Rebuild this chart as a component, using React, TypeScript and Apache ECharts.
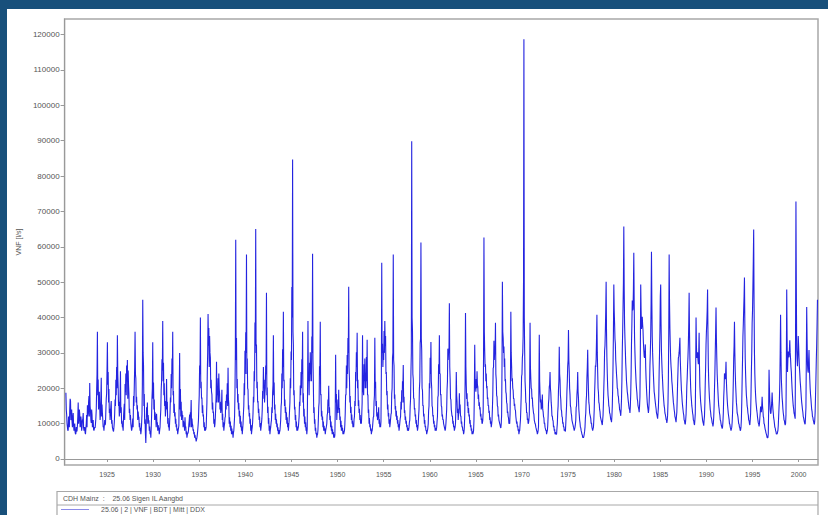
import React, { useEffect, useRef } from "react";
import * as echarts from "echarts";

// Monthly discharge values in thousands, starting July 1920
const START_YEAR = 1920;
const START_MONTH = 6; // 0-based: July

const flow1920s = [
  18.7, 12.5, 9.0, 8.2, 10.5, 14.0,
  16.5, 12.0, 10.5, 11.8, 9.6, 8.4, 7.6, 7.2, 7.8, 9.5, 16.0, 11.5,
  12.8, 9.4, 10.6, 8.9, 11.2, 9.0, 8.1, 7.4, 8.6, 12.4, 15.2, 13.0,
  17.8, 21.5, 13.6, 10.2, 12.5, 9.8, 8.4, 7.9, 8.8, 11.6, 19.4, 36.0,
  22.5, 17.2, 14.8, 12.6, 23.0, 15.4, 11.2, 9.3, 8.1, 9.6, 13.8, 18.5,
  33.0, 24.6, 19.8, 14.2, 12.8, 16.4, 11.0, 8.9, 7.8, 10.4, 16.8, 22.4,
  26.0, 35.0, 20.4, 16.2, 13.5, 24.8, 14.6, 10.8, 9.2, 12.0, 15.6, 21.2,
  24.2, 26.4, 28.0, 25.0, 18.6, 14.2, 12.4, 10.1, 8.6, 11.4, 17.8, 20.6,
  36.0, 22.8, 17.6, 15.2, 13.4, 11.8, 10.2, 8.8, 8.0, 12.6, 45.0, 26.4,
  18.4, 11.2, 4.5, 14.6, 16.0, 12.4, 10.8, 9.2, 7.9, 8.6, 17.2, 33.0,
];
const flow1930s = [
  21.6, 16.8, 13.2, 11.4, 12.8, 10.4, 9.6, 8.5, 8.1, 11.8, 19.6, 28.2,
  39.0, 27.2, 21.4, 16.4, 14.0, 22.6, 16.2, 11.6, 9.4, 10.6, 17.4, 24.0,
  28.4, 36.0, 19.2, 15.6, 13.2, 11.4, 9.8, 8.6, 7.9, 9.4, 30.0, 19.8,
  16.2, 13.6, 12.4, 10.8, 9.6, 11.8, 9.2, 7.8, 6.9, 7.4, 9.8, 12.6,
  13.2, 16.7, 11.4, 9.6, 8.4, 7.6, 6.8, 5.8, 5.5, 6.9, 9.4, 14.8,
  26.4, 40.0, 21.8, 17.4, 15.2, 12.6, 10.4, 9.0, 8.4, 12.2, 24.6, 41.0,
  37.0, 34.8, 28.6, 22.4, 18.2, 16.0, 13.4, 11.2, 10.0, 14.8, 27.5, 20.6,
  22.8, 24.2, 18.4, 16.2, 14.0, 19.6, 12.8, 10.4, 9.2, 11.6, 16.4, 18.2,
  21.4, 25.8, 15.6, 11.8, 10.6, 9.4, 8.6, 7.8, 7.4, 9.8, 18.6, 62.0,
  34.2, 22.6, 18.4, 15.8, 13.6, 12.2, 10.6, 9.2, 8.4, 12.8, 21.4, 30.6,
];
const flow1940s = [
  35.8, 57.8, 28.4, 19.6, 15.2, 13.0, 11.4, 9.6, 8.2, 10.4, 17.6, 24.8,
  38.6, 65.0, 32.4, 21.8, 16.4, 14.2, 12.0, 10.2, 9.0, 11.4, 19.2, 26.0,
  22.4, 18.6, 26.4, 47.0, 20.2, 14.8, 11.6, 9.4, 8.2, 10.2, 14.6, 18.8,
  35.0, 21.6, 15.4, 12.8, 11.2, 10.0, 9.0, 8.2, 7.6, 9.4, 14.8, 24.2,
  31.0, 41.6, 22.4, 16.8, 14.6, 13.2, 11.8, 10.2, 9.4, 13.6, 22.8, 30.4,
  48.6, 84.7, 32.2, 19.4, 14.8, 12.4, 10.6, 9.2, 8.6, 10.4, 16.2, 20.8,
  24.6, 28.2, 36.0, 18.6, 14.2, 12.0, 10.4, 9.0, 8.4, 39.0, 24.4, 27.2,
  30.2, 26.4, 34.6, 58.0, 21.4, 14.6, 11.2, 8.8, 7.4, 6.8, 8.2, 14.6,
  26.2, 38.8, 18.4, 13.6, 12.0, 10.6, 9.4, 8.6, 8.0, 9.2, 12.4, 16.8,
  20.7, 14.6, 12.2, 10.6, 9.4, 8.4, 7.6, 7.0, 6.8, 29.5, 18.4, 14.2,
];
const flow1950s = [
  16.8, 19.6, 14.4, 12.0, 10.8, 9.6, 8.8, 8.0, 7.6, 9.8, 18.2, 26.4,
  29.4, 34.2, 48.7, 22.6, 17.8, 14.8, 12.6, 10.8, 9.6, 11.2, 16.4, 24.6,
  30.2, 35.7, 22.4, 16.6, 14.2, 12.4, 11.0, 12.6, 35.0, 19.2, 26.8, 28.4,
  24.4, 28.8, 33.7, 18.2, 14.0, 11.6, 9.8, 8.6, 7.8, 9.0, 11.8, 16.2,
  34.3, 21.8, 16.4, 13.2, 11.8, 14.6, 11.2, 9.8, 10.6, 55.5, 32.6, 30.4,
  36.2, 39.0, 34.8, 24.6, 19.2, 15.4, 13.0, 11.2, 10.0, 12.6, 18.4, 28.6,
  57.8, 26.4, 18.2, 15.0, 13.6, 12.2, 11.0, 9.8, 9.0, 11.4, 16.2, 19.4,
  22.0, 26.6, 17.6, 13.8, 12.0, 10.8, 9.6, 8.8, 8.2, 10.4, 14.8, 24.6,
  89.8, 36.4, 22.6, 17.2, 14.4, 12.6, 11.0, 9.6, 8.8, 12.2, 19.8, 32.8,
  61.2, 30.8, 19.4, 15.2, 12.8, 11.0, 9.4, 8.2, 7.6, 8.8, 13.6, 21.4,
];
const flow1960s = [
  28.6, 33.1, 20.2, 14.6, 12.4, 10.8, 9.6, 8.8, 8.2, 10.6, 17.4, 26.8,
  35.0, 24.2, 18.4, 14.8, 12.6, 11.2, 10.0, 9.0, 8.6, 11.8, 19.6, 31.2,
  30.4, 44.0, 22.6, 16.8, 14.0, 12.2, 10.8, 9.4, 8.6, 10.2, 24.6, 16.4,
  14.2, 12.8, 18.6, 15.4, 12.2, 10.6, 9.2, 8.2, 7.6, 12.4, 41.3, 20.8,
  18.6, 16.2, 14.4, 12.6, 11.0, 9.6, 8.6, 7.8, 7.4, 10.8, 32.3, 20.2,
  22.6, 24.8, 20.4, 18.2, 16.0, 14.6, 12.8, 11.4, 10.2, 13.6, 62.6, 30.4,
  26.8, 24.2, 20.6, 17.4, 15.2, 13.6, 11.8, 10.6, 9.8, 14.2, 25.6, 33.4,
  30.6, 38.5, 22.4, 17.6, 14.8, 12.6, 11.0, 9.6, 8.8, 12.4, 50.1, 34.2,
  31.8, 28.4, 22.6, 18.4, 15.6, 13.4, 11.6, 10.2, 12.8, 41.6, 26.2, 22.8,
  19.4, 17.2, 15.6, 13.8, 12.0, 10.6, 9.4, 8.4, 7.8, 9.6, 14.2, 23.4,
];
const flow1970s = [
  28.6, 34.8, 118.7, 30.2, 19.6, 15.8, 13.2, 11.4, 10.2, 12.6, 38.5, 22.6,
  19.8, 17.4, 15.0, 12.6, 11.0, 9.8, 8.6, 7.8, 7.4, 9.2, 35.1, 18.4,
  16.8, 14.6, 18.2, 13.4, 11.6, 10.2, 9.0, 8.2, 7.6, 9.4, 15.8, 20.4,
  24.6, 18.8, 14.6, 12.2, 10.8, 9.4, 8.4, 7.6, 7.0, 8.6, 13.2, 19.6,
  31.7, 22.4, 16.8, 13.6, 11.8, 10.4, 9.2, 8.4, 7.8, 12.6, 19.2, 26.2,
  36.5, 24.8, 18.2, 14.6, 12.4, 11.0, 9.6, 8.6, 8.0, 9.8, 14.6, 18.2,
  24.6, 17.2, 12.6, 10.2, 8.8, 7.6, 6.8, 6.2, 6.4, 7.8, 11.6, 16.4,
  22.8, 30.9, 19.4, 15.2, 13.0, 11.4, 10.2, 9.0, 8.6, 11.2, 18.6, 26.4,
  28.2, 40.8, 24.6, 18.8, 15.6, 13.4, 12.0, 10.6, 9.6, 12.4, 20.2, 30.6,
  36.4, 50.1, 28.6, 20.4, 16.8, 14.6, 12.8, 11.2, 10.4, 14.8, 26.8, 49.3,
];
const flow1980s = [
  38.4, 32.6, 26.2, 22.4, 19.8, 17.6, 15.4, 13.6, 12.2, 16.8, 30.4, 42.6,
  65.7, 38.2, 30.6, 24.8, 20.6, 18.2, 16.0, 14.2, 13.0, 18.4, 32.6, 44.8,
  42.4, 58.3, 34.2, 26.4, 21.6, 18.8, 16.4, 14.6, 13.2, 17.6, 49.3, 36.8,
  40.2, 36.4, 30.8, 28.6, 32.4, 22.6, 17.8, 14.8, 13.0, 16.2, 26.4, 34.8,
  58.6, 34.6, 26.8, 21.4, 18.2, 16.0, 14.2, 12.6, 11.4, 14.6, 24.8, 36.2,
  49.3, 30.4, 24.2, 19.6, 16.4, 14.4, 12.6, 11.2, 10.2, 12.4, 22.6, 57.8,
  36.8, 28.2, 24.6, 20.8, 17.6, 15.2, 13.2, 11.6, 10.4, 13.2, 21.4, 28.6,
  30.2, 34.3, 24.8, 19.4, 16.2, 14.0, 12.4, 10.8, 9.8, 12.6, 20.6, 26.4,
  32.6, 47.0, 28.4, 20.2, 16.6, 14.2, 12.4, 10.8, 9.6, 12.8, 40.0, 28.6,
  30.2, 26.8, 35.7, 20.4, 16.2, 13.8, 12.0, 10.4, 9.4, 12.2, 21.6, 32.4,
];
const flow1990s = [
  38.6, 47.9, 26.4, 19.2, 15.6, 13.2, 11.6, 10.2, 9.2, 11.8, 19.8, 30.2,
  42.8, 28.6, 21.4, 16.8, 14.2, 12.4, 10.8, 9.4, 8.6, 10.6, 17.4, 24.2,
  22.6, 27.5, 19.2, 15.2, 12.8, 11.2, 9.8, 8.6, 8.0, 10.4, 16.8, 28.4,
  38.8, 24.6, 18.6, 14.8, 12.6, 11.0, 9.8, 8.8, 8.2, 11.2, 22.4, 34.6,
  42.2, 51.3, 28.4, 20.6, 16.8, 14.4, 12.4, 10.8, 9.6, 12.8, 24.6, 38.4,
  48.6, 64.9, 30.2, 20.4, 16.2, 13.8, 11.8, 10.2, 9.2, 11.6, 14.8, 13.2,
  17.6, 13.8, 11.6, 9.8, 8.4, 7.4, 6.6, 6.0, 7.2, 25.2, 16.4, 12.8,
  14.6, 18.8, 14.2, 11.6, 10.0, 8.8, 7.8, 7.2, 7.0, 9.4, 14.6, 21.8,
  40.8, 22.6, 17.4, 14.2, 12.2, 10.8, 9.6, 12.4, 47.9, 24.6, 30.4, 28.8,
  33.6, 28.4, 24.6, 19.8, 16.4, 14.2, 12.6, 11.4, 72.8, 30.6, 26.2, 34.8,
];
const flow2000s = [
  28.6, 24.2, 20.6, 17.4, 15.0, 13.2, 11.6, 10.4, 9.8, 14.6, 43.0, 26.8,
  24.4, 30.8, 22.6, 18.2, 15.4, 13.4, 11.8, 10.6, 9.8, 13.2, 22.6, 32.4,
  45.0,
];

// Mid-month readings (between consecutive monthly values), thousands
const mid1920s = [
  14, 10, 8, 12, 9, 17,
  11, 14, 9, 13, 8, 10, 7, 9, 8, 12, 10, 14,
  9, 12, 8, 11, 13, 8, 9, 7, 10, 9, 12, 16,
  12, 15, 11, 14, 9, 11, 8, 9, 10, 14, 24, 18,
  14, 19, 11, 17, 12, 13, 9, 8, 11, 10, 17, 25,
  21, 16, 13, 11, 15, 10, 9, 8, 9, 13, 15, 18,
  20, 24, 15, 12, 18, 13, 10, 9, 8, 14, 11, 19,
  18, 22, 17, 21, 13, 11, 10, 8, 10, 9, 15, 26,
  24, 16, 14, 11, 12, 9, 8, 7, 10, 21, 30, 15,
  10, 7, 9, 12, 10, 11, 8, 7, 6, 12, 20, 17,
];
const mid1930s = [
  14, 11, 12, 9, 10, 8, 9, 7, 9, 14, 22, 25,
  22, 18, 15, 12, 16, 14, 10, 9, 8, 13, 16, 20,
  24, 18, 13, 12, 10, 9, 8, 7, 8, 19, 14, 12,
  11, 12, 9, 10, 8, 9, 7, 6, 7, 8, 11, 9,
  12, 9, 10, 8, 7, 6, 6, 5, 6, 8, 11, 18,
  24, 20, 17, 13, 12, 9, 8, 8, 9, 16, 30, 32,
  26, 30, 20, 19, 14, 13, 10, 9, 12, 18, 16, 18,
  16, 20, 14, 13, 15, 11, 9, 8, 10, 12, 14, 16,
  15, 17, 10, 9, 8, 7, 7, 6, 8, 12, 30, 28,
  20, 16, 14, 12, 10, 9, 8, 7, 10, 15, 18, 24,
];
const mid1940s = [
  30, 24, 20, 14, 12, 10, 8, 7, 9, 13, 16, 22,
  32, 30, 20, 16, 13, 11, 9, 8, 10, 14, 17, 20,
  16, 20, 24, 18, 13, 10, 8, 7, 9, 11, 13, 21,
  18, 14, 11, 10, 9, 8, 7, 7, 8, 11, 16, 20,
  26, 22, 15, 13, 11, 10, 9, 8, 11, 16, 20, 28,
  40, 36, 18, 14, 11, 9, 8, 8, 9, 12, 15, 18,
  20, 24, 16, 12, 10, 9, 8, 7, 20, 22, 18, 22,
  24, 22, 30, 28, 13, 10, 8, 7, 6, 7, 11, 16,
  24, 18, 12, 11, 9, 8, 8, 7, 8, 10, 13, 15,
  13, 11, 9, 8, 7, 7, 6, 6, 14, 16, 11, 13,
];
const mid1950s = [
  14, 13, 11, 9, 8, 8, 7, 7, 8, 13, 18, 20,
  24, 30, 26, 16, 13, 11, 10, 9, 9, 12, 15, 22,
  26, 20, 15, 13, 11, 10, 10, 16, 20, 18, 22, 20,
  20, 22, 18, 13, 10, 9, 8, 7, 8, 9, 12, 18,
  20, 15, 12, 11, 12, 10, 9, 9, 24, 30, 26, 28,
  30, 32, 24, 18, 14, 12, 10, 9, 10, 13, 20, 30,
  28, 17, 14, 12, 11, 10, 9, 8, 9, 12, 14, 16,
  20, 16, 13, 11, 10, 9, 8, 8, 9, 11, 17, 30,
  40, 24, 17, 14, 12, 10, 9, 8, 10, 14, 22, 34,
  34, 20, 15, 12, 10, 9, 8, 7, 8, 10, 15, 20,
];
const mid1960s = [
  24, 22, 15, 12, 10, 9, 8, 8, 9, 12, 18, 24,
  24, 18, 15, 12, 11, 10, 9, 8, 10, 14, 22, 28,
  30, 26, 17, 14, 12, 10, 9, 8, 9, 15, 18, 13,
  11, 13, 14, 12, 10, 9, 8, 7, 9, 22, 26, 17,
  15, 13, 12, 10, 9, 8, 7, 7, 8, 18, 22, 19,
  20, 21, 17, 15, 14, 12, 11, 10, 11, 30, 36, 26,
  22, 20, 17, 15, 13, 11, 10, 9, 11, 18, 26, 28,
  30, 24, 18, 15, 12, 11, 10, 9, 10, 26, 36, 30,
  26, 22, 19, 16, 13, 12, 10, 10, 22, 30, 22, 20,
  17, 15, 14, 12, 10, 9, 8, 7, 8, 11, 18, 24,
];
const mid1970s = [
  30, 50, 40, 22, 16, 13, 11, 10, 11, 22, 26, 20,
  17, 15, 13, 11, 10, 9, 8, 7, 8, 20, 22, 16,
  14, 15, 14, 12, 10, 9, 8, 7, 8, 12, 17, 21,
  20, 16, 12, 11, 9, 8, 7, 7, 7, 10, 15, 22,
  24, 18, 14, 12, 10, 9, 8, 8, 10, 15, 22, 28,
  28, 20, 15, 13, 11, 10, 9, 8, 9, 11, 15, 20,
  19, 14, 11, 9, 8, 7, 6, 6, 7, 9, 13, 18,
  26, 24, 16, 13, 12, 10, 9, 8, 9, 14, 22, 26,
  34, 30, 20, 16, 14, 12, 11, 10, 11, 16, 24, 32,
  42, 36, 24, 18, 15, 13, 12, 11, 12, 20, 36, 42,
];
const mid1980s = [
  34, 28, 24, 20, 18, 16, 14, 13, 14, 22, 36, 50,
  48, 34, 27, 22, 19, 17, 15, 14, 15, 24, 38, 42,
  48, 44, 30, 24, 20, 17, 15, 14, 15, 30, 42, 38,
  38, 33, 29, 30, 26, 20, 16, 14, 14, 20, 30, 44,
  44, 30, 24, 19, 17, 15, 13, 12, 13, 18, 30, 46,
  38, 27, 22, 18, 15, 13, 12, 11, 11, 16, 36, 44,
  32, 26, 22, 19, 16, 14, 12, 11, 12, 17, 25, 29,
  32, 28, 22, 18, 15, 13, 11, 10, 11, 16, 23, 29,
  38, 36, 24, 18, 15, 13, 11, 10, 11, 24, 32, 29,
  28, 30, 26, 18, 15, 13, 11, 10, 11, 16, 26, 36,
];
const mid1990s = [
  42, 36, 22, 17, 14, 12, 11, 10, 10, 15, 24, 36,
  34, 24, 19, 15, 13, 11, 10, 9, 9, 13, 20, 23,
  24, 22, 17, 14, 12, 10, 9, 8, 9, 13, 22, 32,
  30, 21, 16, 13, 12, 10, 9, 8, 9, 16, 28, 38,
  46, 38, 24, 18, 15, 13, 11, 10, 11, 18, 30, 42,
  56, 44, 24, 18, 15, 13, 11, 10, 10, 13, 14, 15,
  15, 12, 10, 9, 8, 7, 6, 6, 14, 20, 14, 13,
  16, 16, 13, 11, 9, 8, 7, 7, 8, 12, 17, 30,
  30, 20, 16, 13, 11, 10, 10, 26, 34, 28, 29, 31,
  30, 26, 22, 18, 15, 13, 12, 36, 48, 28, 30, 32,
];
const mid2000s = [
  26, 22, 19, 16, 14, 12, 11, 10, 12, 28, 34, 25,
  28, 26, 20, 17, 14, 12, 11, 10, 11, 18, 28, 38,
];

const yTicks = [0, 10000, 20000, 30000, 40000, 50000, 60000, 70000, 80000, 90000, 100000, 110000, 120000];
const xTicks = [1925, 1930, 1935, 1940, 1945, 1950, 1955, 1960, 1965, 1970, 1975, 1980, 1985, 1990, 1995, 2000];

const seriesName = "25.06 | 2 | VNF | BDT | Mitt | DDX";
const legendHeader = "CDH Mainz  :    25.06 Sigen IL Aangbd";
const yAxisName = "VNF [l/s]";

export default function App() {
  const ref = useRef<HTMLDivElement>(null);
  useEffect(() => {
    if (!ref.current) return;
    const chart = echarts.init(ref.current, null, { renderer: "svg" });
    const monthly = [
      ...flow1920s, ...flow1930s, ...flow1940s, ...flow1950s, ...flow1960s,
      ...flow1970s, ...flow1980s, ...flow1990s, ...flow2000s,
    ];
    const mids = [
      ...mid1920s, ...mid1930s, ...mid1940s, ...mid1950s, ...mid1960s,
      ...mid1970s, ...mid1980s, ...mid1990s, ...mid2000s,
    ];
    const data: number[][] = [];
    monthly.forEach((v, i) => {
      const x = START_YEAR + (START_MONTH + i + 0.5) / 12;
      data.push([x, v * 1000]);
      if (i < mids.length && i < monthly.length - 1) data.push([x + 1 / 24, mids[i] * 1000]);
    });
    const font = "Liberation Sans";
    chart.setOption({
      animation: false,
      textStyle: { fontFamily: font },
      grid: {
        left: 50, right: 10, top: 10, bottom: 50,
        show: true, borderColor: "#a8a8a8", borderWidth: 1.5, backgroundColor: "transparent",
      },
      legend: {
        show: true, left: 54, top: 497, padding: 0, itemWidth: 28, itemHeight: 1, itemGap: 10,
        textStyle: { fontSize: 7, color: "#555", fontFamily: font, padding: [0, 0, 0, 7] },
        data: [{
          name: seriesName, icon: "rect",
          itemStyle: { color: "#8a8ae8", borderWidth: 0 },
          lineStyle: { color: "#8a8ae8", width: 0 },
        }],
      },
      xAxis: {
        type: "value", min: 1920.4, max: 2002.1,
        axisLine: { show: true, lineStyle: { color: "#999", width: 1 } },
        axisTick: { show: true, length: 3, lineStyle: { color: "#999" }, customValues: xTicks },
        axisLabel: { fontSize: 7, color: "#555", margin: 6, customValues: xTicks, formatter: (v: number) => String(v) },
        splitLine: { show: false },
      },
      yAxis: {
        type: "value", min: -1700, max: 124400,
        name: yAxisName, nameLocation: "middle", nameRotate: 90, nameGap: 34,
        nameTextStyle: { fontSize: 7, color: "#555" },
        axisLine: { show: true, lineStyle: { color: "#999", width: 1 } },
        axisTick: { show: true, length: 4, lineStyle: { color: "#999" }, customValues: yTicks },
        axisLabel: { fontSize: 8, color: "#555", margin: 5, customValues: yTicks, formatter: (v: number) => String(v) },
        splitLine: { show: false },
      },
      graphic: [
        {
          type: "rect", silent: true,
          shape: { x: 50, y: 482.5, width: 761, height: 40 },
          style: { fill: "none", stroke: "#a8a8a8", lineWidth: 1.2 },
        },
        {
          type: "line", silent: true,
          shape: { x1: 50, y1: 496, x2: 811, y2: 496 },
          style: { stroke: "#a8a8a8", lineWidth: 1 },
        },
        {
          type: "text", silent: true, x: 56, y: 489,
          style: { text: legendHeader, fontSize: 7, fill: "#555", fontFamily: font, verticalAlign: "middle" },
        },
      ],
      series: [
        {
          name: seriesName, type: "line", data, symbol: "none", showSymbol: false,
          lineStyle: { color: "#2424e0", width: 1.1 }, itemStyle: { color: "#8a8ae8" },
        },
      ],
    });
    return () => chart.dispose();
  }, []);
  return (
    <div style={{ position: "fixed", left: 0, top: 0, width: 828, height: 515, background: "#18507b", overflow: "hidden" }}>
      <div ref={ref} style={{ position: "absolute", left: 7, top: 9, width: 821, height: 506, background: "#fff" }} />
    </div>
  );
}
